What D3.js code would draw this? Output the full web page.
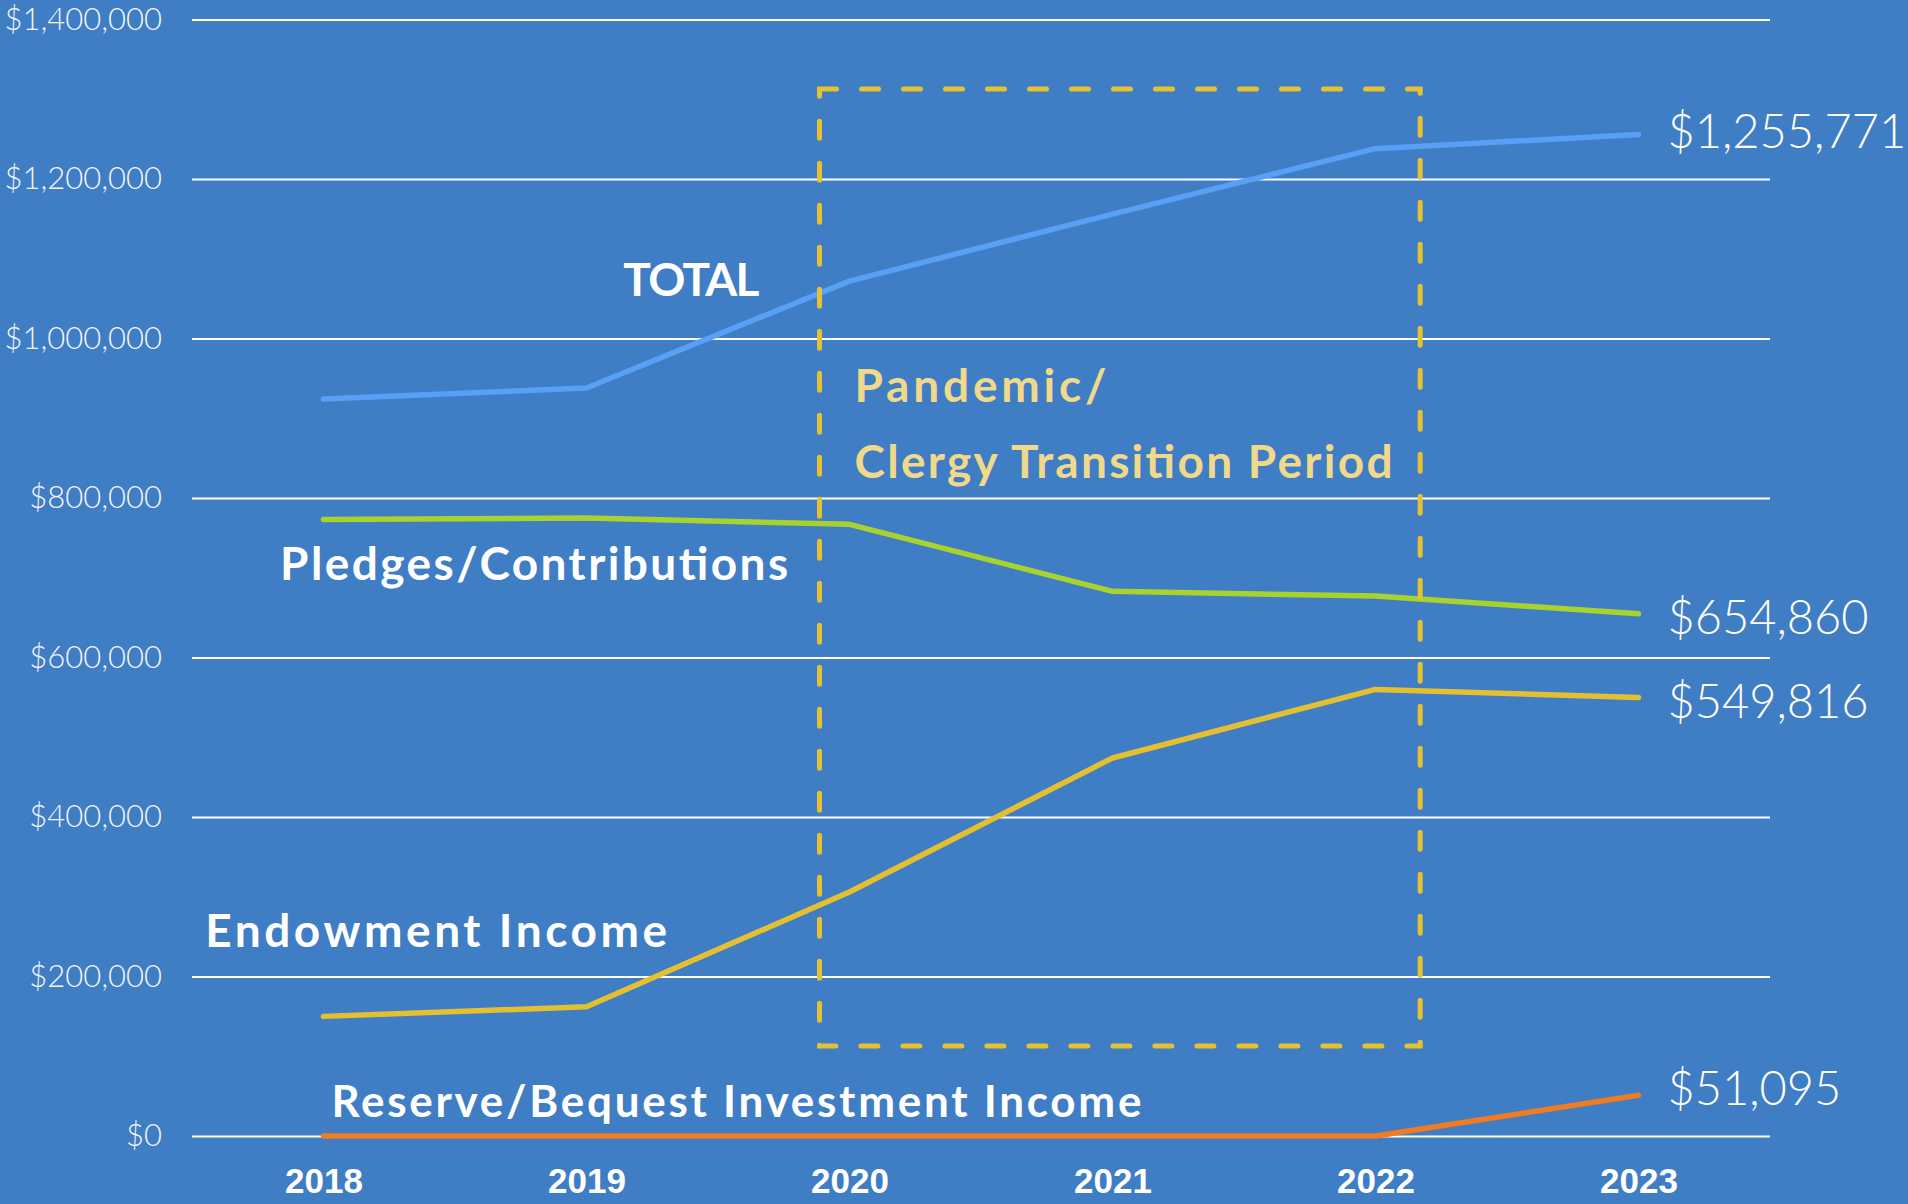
<!DOCTYPE html>
<html>
<head>
<meta charset="utf-8">
<script src="https://cdn.jsdelivr.net/npm/d3@7"></script>
<style>
  html, body { margin: 0; padding: 0; background: #3f7dc5; }
  svg { display: block; }
  .tick line { stroke: #ffffff; stroke-width: 2; }
</style>
</head>
<body>
<div id="chart"></div>
<script>
// Income by source, 2018-2023

const years = [2018, 2019, 2020, 2021, 2022, 2023];

const totalValues = [924000, 938000, 1072000, 1156000, 1238000, 1255771];
const pledgeValues = [773000, 775000, 767000, 683000, 677000, 654860];
const endowmentValues = [150000, 162000, 306000, 474000, 560000, 549816];
const reserveValues = [0, 0, 0, 0, 0, 51095];

const yTicks = [0, 200000, 400000, 600000, 800000, 1000000, 1200000, 1400000];

const seriesNames = ["TOTAL", "Pledges/Contributions", "Endowment Income", "Reserve/Bequest Investment Income"];
const endLabels = ["$1,255,771", "$654,860", "$549,816", "$51,095"];

// where the series names sit (year, value of baseline)
const nameAnchorYears = [2019.14, 2017.835, 2017.55, 2018.03];
const nameAnchorValues = [1053000, 697000, 237000, 23800];

// pandemic / clergy transition window
const periodYears = [2019.886, 2022.17];
const periodValues = [113000, 1313000];
const periodText = ["Pandemic/", "Clergy Transition Period"];
const periodTextValues = [920000, 825000];

const W = 1908, H = 1204;
const colors = ["#58a0f5", "#a8d22f", "#e4c030", "#ef7b22"];
const endLabelDy = [13, 20, 20, 10];
// the original face is wider than Lato, so stretch the spacing to the same widths
const nameWidths = [136, 508, 462, 810];
const periodWidths = [252, 538];

const svg = d3.select("#chart").append("svg")
    .attr("width", W)
    .attr("height", H)
    .style("font-family", "Lato, 'Open Sans', sans-serif");

svg.append("rect").attr("width", W).attr("height", H).attr("fill", "#3f7dc5");

const x = d3.scaleLinear()
    .domain([2017.5, 2023.5])
    .range([192, 1770]);

const y = d3.scaleLinear()
    .domain([0, 1400000])
    .range([1136, 19.5]);

// grid + y labels
const yAxis = svg.append("g")
    .attr("transform", `translate(${x(2017.5)},0)`)
    .call(d3.axisLeft(y)
        .tickValues(yTicks)
        .tickSize(-(x(2023.5) - x(2017.5)))
        .tickPadding(30)
        .tickFormat(d => "$" + d3.format(",")(d)));
yAxis.select(".domain").remove();
yAxis.selectAll("text")
    .attr("fill", "#f6f6f6")
    .style("font-size", "31px")
    .style("font-weight", 300)
    .style("font-family", "Lato, sans-serif");

// x labels
const xAxis = svg.append("g")
    .attr("transform", `translate(0,${y(0)})`)
    .call(d3.axisBottom(x)
        .tickValues(years)
        .tickSize(0)
        .tickPadding(32)
        .tickFormat(d3.format("d")));
xAxis.select(".domain").remove();
xAxis.selectAll("text")
    .attr("fill", "#ffffff")
    .style("font-size", "35px")
    .style("font-weight", 700);

// lines
const allSeries = [totalValues, pledgeValues, endowmentValues, reserveValues];
const line = d3.line()
    .x((d, i) => x(years[i]))
    .y(d => y(d));

allSeries.forEach((vals, k) => {
    svg.append("path")
        .datum(vals)
        .attr("fill", "none")
        .attr("stroke", colors[k])
        .attr("stroke-width", 5.5)
        .attr("stroke-linecap", "round")
        .attr("stroke-linejoin", "round")
        .attr("d", line);

    svg.append("text")
        .attr("x", x(years[years.length - 1]) + 29)
        .attr("y", y(vals[vals.length - 1]) + endLabelDy[k])
        .attr("fill", "#ffffff")
        .style("font-size", "47px")
        .style("font-weight", 300)
        .text(endLabels[k]);

    svg.append("text")
        .attr("x", x(nameAnchorYears[k]))
        .attr("y", y(nameAnchorValues[k]))
        .attr("fill", "#ffffff")
        .attr("textLength", nameWidths[k])
        .attr("lengthAdjust", "spacing")
        .style("font-size", k === 3 ? "44px" : "46px")
        .style("font-weight", 700)
        .text(seriesNames[k]);
});

// dashed window
svg.append("rect")
    .attr("x", x(periodYears[0]))
    .attr("y", y(periodValues[1]))
    .attr("width", x(periodYears[1]) - x(periodYears[0]))
    .attr("height", y(periodValues[0]) - y(periodValues[1]))
    .attr("fill", "none")
    .attr("stroke", "#e6c232")
    .attr("stroke-width", 5)
    .attr("stroke-linecap", "round")
    .attr("stroke-dasharray", "17 25");

periodText.forEach((t, i) => {
    svg.append("text")
        .attr("x", x(periodYears[0]) + 35)
        .attr("y", y(periodTextValues[i]))
        .attr("fill", "#f0d98a")
        .attr("textLength", periodWidths[i])
        .attr("lengthAdjust", "spacing")
        .style("font-size", "46px")
        .style("font-weight", 700)
        .text(t);
});
</script>
</body>
</html>
